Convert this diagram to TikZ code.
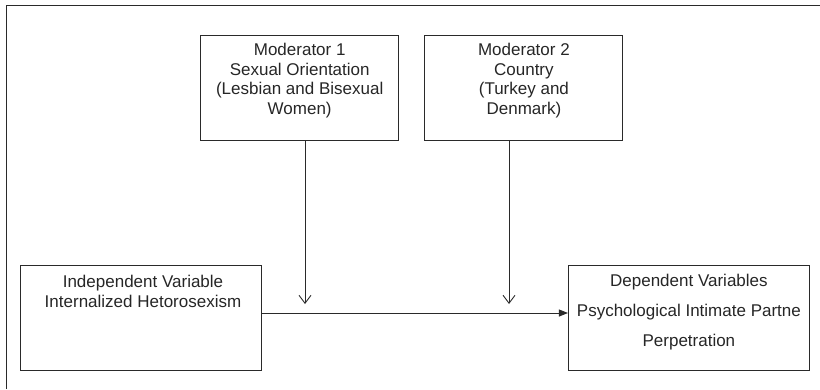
\documentclass[tikz,border=0pt]{standalone}
\usepackage{fontspec}
\setmainfont{Liberation Sans}
\usetikzlibrary{arrows.meta,positioning}
\definecolor{linegray}{HTML}{2A2A2A}
\tikzstyle{modbox} = [rectangle, draw=linegray, line width=0.9pt, minimum width=198pt, minimum height=105pt, inner sep=0pt]
\tikzstyle{varbox} = [rectangle, draw=linegray, line width=0.9pt, minimum width=241pt, minimum height=105pt, inner sep=0pt]
\tikzstyle{boxtext} = [align=center, text=black!85, font=\fontsize{17}{19.5}\selectfont, inner sep=0pt]
\tikzstyle{arrow} = [draw=linegray, line width=0.9pt, -{Triangle[length=9pt,width=7pt]}]
\tikzstyle{modarrow} = [draw=linegray, line width=0.9pt, -{Straight Barb[length=8pt,width=12pt]}]

\begin{document}
\begin{tikzpicture}[x=1pt, y=1pt]
  \useasboundingbox (0,0) rectangle (820,-389);
  % outer frame (only top and left show)
  \draw[linegray, line width=1pt] (6,-389) -- (6,-5) -- (820,-5);

  \node (mod1) [modbox] at (299.7,-87.5) {};
  \node (mod2) [modbox, right=25.3pt of mod1] {};
  \node (iv) [varbox] at (141,-317.5) {};
  \node (dv) [varbox, right=306pt of iv] {};

  \node (mod1txt) [boxtext, yshift=7pt] at (mod1.center)
    {Moderator 1\\ Sexual Orientation\\ (Lesbian and Bisexual\\ Women)};
  \node (mod2txt) [boxtext, yshift=7pt] at (mod2.center)
    {Moderator 2\\ Country\\ (Turkey and\\ Denmark)};
  \node (ivtxt) [boxtext, yshift=26pt, xshift=2pt] at (iv.center)
    {Independent Variable\\[1pt] Internalized Hetorosexism};
  \node (dvtxt) [boxtext, yshift=5pt] at (dv.center)
    {Dependent Variables\\[10.5pt] Psychological Intimate Partne\\[10.5pt] Perpetration};

  \coordinate (m1end) at (305,-304);
  \coordinate (m2end) at (509,-304);

  \draw[arrow] ([yshift=4.5pt]iv.east) -- ([yshift=4.5pt]dv.west);
  \draw[modarrow] (mod1.south -| m1end) -- (m1end);
  \draw[modarrow] (mod2.south -| m2end) -- (m2end);
\end{tikzpicture}
\end{document}
